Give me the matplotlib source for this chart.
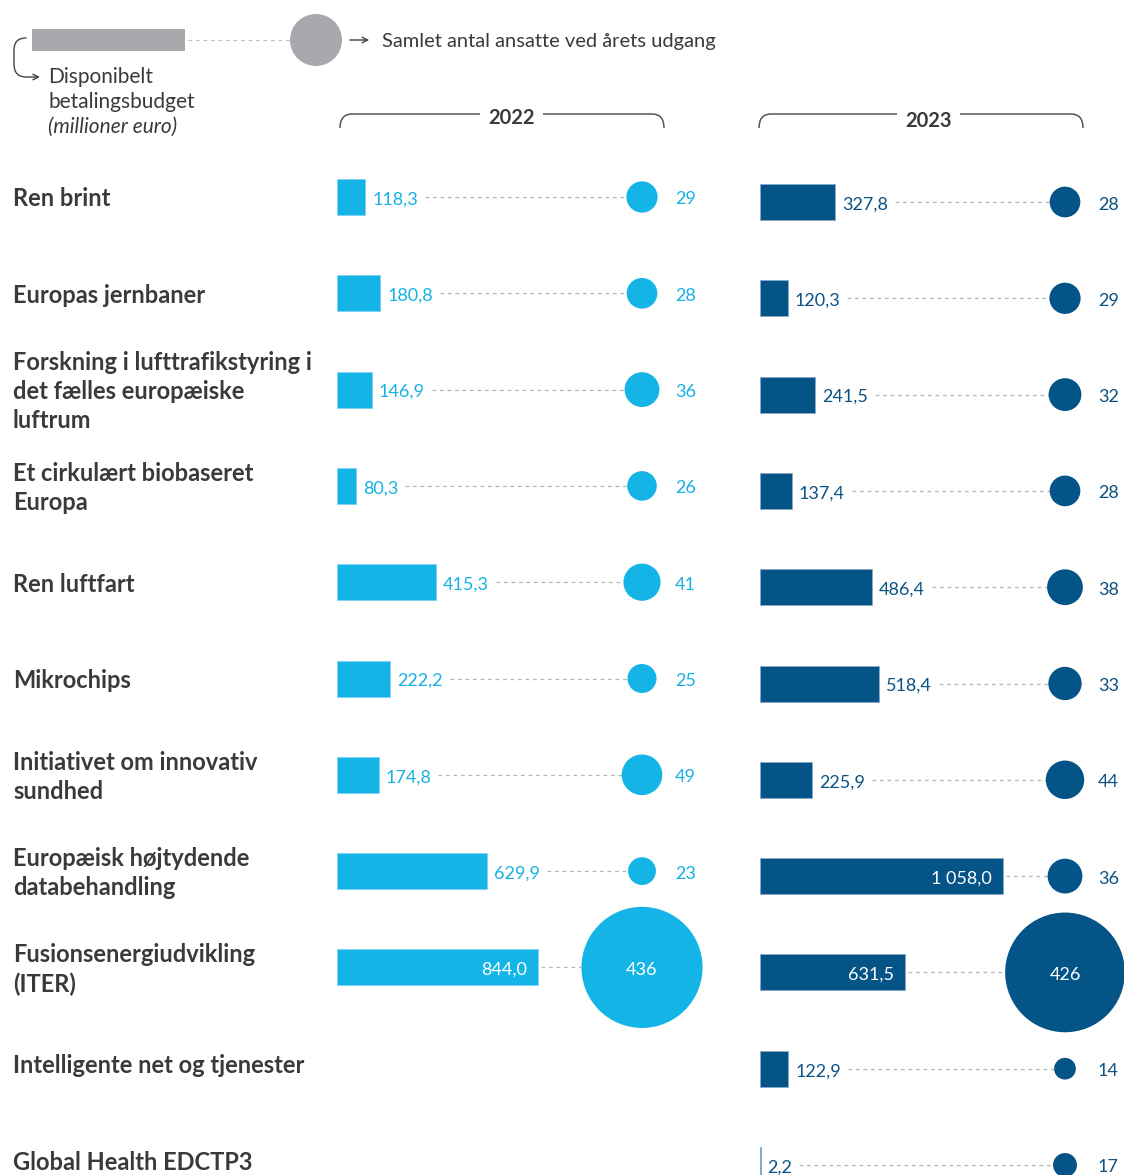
import matplotlib
matplotlib.use("Agg")
import matplotlib.pyplot as plt
import numpy as np
from matplotlib.patches import Rectangle, Circle, FancyArrowPatch, PathPatch
from matplotlib.path import Path
from matplotlib.transforms import blended_transform_factory

plt.rcParams['font.family'] = ['Lato', 'DejaVu Sans']

# data
categories = [
    "Ren brint",
    "Europas jernbaner",
    "Forskning i lufttrafikstyring i\ndet fælles europæiske\nluftrum",
    "Et cirkulært biobaseret\nEuropa",
    "Ren luftfart",
    "Mikrochips",
    "Initiativet om innovativ\nsundhed",
    "Europæisk højtydende\ndatabehandling",
    "Fusionsenergiudvikling\n(ITER)",
    "Intelligente net og tjenester",
    "Global Health EDCTP3",
]
budget_2022 = [118.3, 180.8, 146.9, 80.3, 415.3, 222.2, 174.8, 629.9, 844.0]
staff_2022 = [29, 28, 36, 26, 41, 25, 49, 23, 436]
budget_2023 = [327.8, 120.3, 241.5, 137.4, 486.4, 518.4, 225.9, 1058.0, 631.5, 122.9, 2.2]
staff_2023 = [28, 29, 32, 28, 38, 33, 44, 36, 426, 14, 17]

CYAN = '#14b4e6'
DARK = '#045487'
GREY = '#a7a9ac'
TXT = '#3a3a3a'
DASH = '#b5b5b5'

W, H = 1124, 1175
ROW_H = 96.3        # px between rows
BAR_H = 36 / ROW_H
CIRCLE_DX = 305     # px from bar origin to circle centre
NUM_DX = 33         # px from circle centre to staff number
R_K = 2.9           # circle radius in px per sqrt(staff)
TDY = 2.5 / ROW_H   # small downward nudge for value text


def fmt(v):
    return f"{v:,.1f}".replace(",", " ").replace(".", ",")


fig = plt.figure(figsize=(W / 100, H / 100), dpi=100)

# overlay in pixel units for legend and headers
ax0 = fig.add_axes([0, 0, 1, 1])
ax0.set_xlim(0, W)
ax0.set_ylim(H, 0)
ax0.axis('off')

panels = [
    dict(year='2022', budget=budget_2022, staff=staff_2022, color=CYAN, tcol='#17b1e3',
         edge='#7fd3f0', left=337, right=720, ppu=0.2381, row0=197),
    dict(year='2023', budget=budget_2023, staff=staff_2023, color=DARK, tcol='#0b5283',
         edge='#86a9c8', left=760, right=1124, ppu=0.2297, row0=202),
]

axes = []
for p in panels:
    ax = fig.add_axes([p['left'] / W, 0, (p['right'] - p['left']) / W, 1])
    ax.set_xlim(0, (p['right'] - p['left']) / p['ppu'])
    ax.set_ylim((H - p['row0']) / ROW_H, -p['row0'] / ROW_H)
    ax.axis('off')
    ax.patch.set_alpha(0)
    axes.append(ax)

# row labels
trans = blended_transform_factory(fig.transFigure, axes[0].transData)
for i, lab in enumerate(categories):
    axes[0].text(13 / W, i + 2 / ROW_H, lab, transform=trans, ha='left', va='center',
                 fontsize=17, fontweight='bold', color=TXT, linespacing=1.32)

fig.canvas.draw()
renderer = fig.canvas.get_renderer()

for p, ax in zip(panels, axes):
    ppu = p['ppu']
    y = np.arange(len(p['budget']))
    cx = CIRCLE_DX / ppu
    ax.barh(y, p['budget'], height=BAR_H, color=p['color'], edgecolor=p['edge'],
            linewidth=0.6, zorder=2)
    sizes = (0.72 * 2 * R_K) ** 2 * np.array(p['staff'])
    ax.scatter(np.full(len(y), cx), y, s=sizes, color=p['color'], linewidths=0, zorder=3)

    for i, (b, s) in enumerate(zip(p['budget'], p['staff'])):
        r = R_K * np.sqrt(s)
        end_px = b * ppu
        inside = end_px + 70 > CIRCLE_DX - r - 40
        if inside:
            ax.text(b - 11 / ppu, i + TDY, fmt(b), ha='right', va='center', fontsize=13,
                    color='white', zorder=4)
            x0 = b + 3 / ppu
        else:
            t = ax.text(b + 7 / ppu, i + TDY, fmt(b), ha='left', va='center', fontsize=13,
                        color=p['tcol'], zorder=4)
            bb = t.get_window_extent(renderer)
            x0 = ax.transData.inverted().transform((bb.x1 + 7, 0))[0]
        ax.plot([x0, cx], [i, i], color=DASH, lw=0.9, ls=(0, (3, 3)), zorder=1)

        if r > NUM_DX:
            ax.text(cx, i + TDY, str(s), ha='center', va='center', fontsize=13,
                    color='white', zorder=4)
        else:
            ax.text((CIRCLE_DX + NUM_DX) / ppu, i + TDY, str(s), ha='left', va='center',
                    fontsize=13, color=p['tcol'], zorder=4)

# year headers with brackets
for year, xl, xr, g0, g1, ty in [('2022', 340, 664, 480, 543, 118),
                                  ('2023', 759, 1083, 897, 960, 121)]:
    for pts in [[(g0, 114), (xl + 12, 114), (xl, 114), (xl, 128)],
                [(g1, 114), (xr - 12, 114), (xr, 114), (xr, 128)]]:
        path = Path(pts, [Path.MOVETO, Path.LINETO, Path.CURVE3, Path.CURVE3])
        ax0.add_patch(PathPatch(path, fill=False, edgecolor='#555555', lw=1.1))
    ax0.text((g0 + g1) / 2, ty, year, ha='center', va='center', fontsize=14.5,
             fontweight='bold', color=TXT)

# legend
ax0.add_patch(Rectangle((32, 29), 153, 22, color=GREY, lw=0))
ax0.plot([188, 292], [40, 40], color='#c0c0c0', lw=0.9, ls=(0, (3, 3)))
ax0.add_patch(Circle((316, 40), 26, color=GREY, lw=0))
ax0.add_patch(FancyArrowPatch((347, 40), (372, 40), arrowstyle='->', mutation_scale=10,
                              lw=1, color='#444444'))
ax0.text(382, 41, "Samlet antal ansatte ved årets udgang", ha='left', va='center',
         fontsize=14.5, color=TXT)
bracket = Path([(26, 38), (14, 38), (14, 50), (14, 64), (14, 77), (26, 77), (40, 77)],
               [Path.MOVETO, Path.CURVE3, Path.CURVE3, Path.LINETO, Path.CURVE3,
                Path.CURVE3, Path.LINETO])
ax0.add_patch(FancyArrowPatch(path=bracket, arrowstyle='->', mutation_scale=10,
                              lw=1, color='#444444'))
ax0.text(48, 77, "Disponibelt", ha='left', va='center', fontsize=15, color=TXT)
ax0.text(48, 102, "betalingsbudget", ha='left', va='center', fontsize=15, color=TXT)
ax0.text(48, 127, "(millioner euro)", ha='left', va='center', fontsize=15,
         style='italic', color=TXT)

fig.savefig('out.png', dpi=100)
